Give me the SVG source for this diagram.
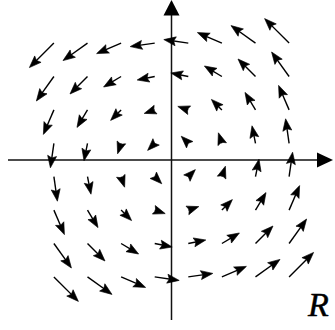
<svg xmlns="http://www.w3.org/2000/svg" width="335" height="330" viewBox="0 0 335 330">
<style>
.ax{stroke:#111;stroke-width:1.5;fill:none}
.ah{fill:#000}
.v path{stroke:#000;stroke-width:1.4;fill:none;marker-end:url(#h)}
.lbl{font-family:"Liberation Serif","Times New Roman",serif;font-style:italic;font-size:34px;fill:#000;stroke:#000;stroke-width:0.5}
</style>
<defs>
<marker id="h" markerUnits="userSpaceOnUse" markerWidth="12" markerHeight="9" viewBox="0 0 12 9" refX="7" refY="4.5" orient="auto" overflow="visible">
<path d="M0,0 L12,4.5 L0,9 L2,4.5 z" fill="#000" stroke="#000" stroke-width="0.6" stroke-linejoin="round"/>
</marker>
</defs>
<rect width="335" height="330" fill="#fff"/>
<g id="axes">
<line class="ax" x1="8" y1="160" x2="318" y2="160"/>
<polygon class="ah" points="317,152.5 333,160 317,167.5"/>
<line class="ax" x1="171.5" y1="14" x2="171.5" y2="320"/>
<polygon class="ah" points="163.5,15.5 171.5,0 179.5,15.5"/>
</g>
<g id="field" class="v">
<path d="M53.9,43.1 l-20.97,20.97"/>
<path d="M87.5,43.1 l-20.43,14.6"/>
<path d="M121.1,43.1 l-19.91,8.53"/>
<path d="M154.7,43.1 l-19.55,2.79"/>
<path d="M188.3,43.1 l-19.55,-2.79"/>
<path d="M221.9,43.1 l-19.91,-8.53"/>
<path d="M255.5,43.1 l-20.43,-14.6"/>
<path d="M289.1,43.1 l-20.97,-20.97"/>

<path d="M53.9,76.5 l-14.6,20.43"/>
<path d="M87.5,76.5 l-13.97,13.97"/>
<path d="M121.1,76.5 l-13.21,7.93"/>
<path d="M154.7,76.5 l-12.6,2.52"/>
<path d="M188.3,76.5 l-12.6,-2.52"/>
<path d="M221.9,76.5 l-13.21,-7.93"/>
<path d="M255.5,76.5 l-13.97,-13.97"/>
<path d="M289.1,76.5 l-14.6,-20.43"/>

<path d="M53.9,109.9 l-8.53,19.91"/>
<path d="M87.5,109.9 l-7.93,13.21"/>
<path d="M121.1,109.9 l-6.96,6.96"/>
<path d="M154.7,109.9 l-5.75,1.92"/>
<path d="M188.3,109.9 l-5.75,-1.92"/>
<path d="M221.9,109.9 l-6.96,-6.96"/>
<path d="M255.5,109.9 l-7.93,-13.21"/>
<path d="M289.1,109.9 l-8.53,-19.91"/>

<path d="M53.9,143.3 l-2.79,19.55"/>
<path d="M87.5,143.3 l-2.52,12.6"/>
<path d="M121.1,143.3 l-1.92,5.75"/>
<path d="M154.7,143.3 l-3.54,3.54"/>
<path d="M188.3,143.3 l-3.54,-3.54"/>
<path d="M221.9,143.3 l-1.92,-5.75"/>
<path d="M255.5,143.3 l-2.52,-12.6"/>
<path d="M289.1,143.3 l-2.79,-19.55"/>

<path d="M53.9,176.7 l2.79,19.55"/>
<path d="M87.5,176.7 l2.52,12.6"/>
<path d="M121.1,176.7 l1.92,5.75"/>
<path d="M154.7,176.7 l3.54,3.54"/>
<path d="M188.3,176.7 l3.54,-3.54"/>
<path d="M221.9,176.7 l1.92,-5.75"/>
<path d="M255.5,176.7 l2.52,-12.6"/>
<path d="M289.1,176.7 l2.79,-19.55"/>

<path d="M53.9,210.1 l8.53,19.91"/>
<path d="M87.5,210.1 l7.93,13.21"/>
<path d="M121.1,210.1 l6.96,6.96"/>
<path d="M154.7,210.1 l5.75,1.92"/>
<path d="M188.3,210.1 l5.75,-1.92"/>
<path d="M221.9,210.1 l6.96,-6.96"/>
<path d="M255.5,210.1 l7.93,-13.21"/>
<path d="M289.1,210.1 l8.53,-19.91"/>

<path d="M53.9,243.5 l14.6,20.43"/>
<path d="M87.5,243.5 l13.97,13.97"/>
<path d="M121.1,243.5 l13.21,7.93"/>
<path d="M154.7,243.5 l12.6,2.52"/>
<path d="M188.3,243.5 l12.6,-2.52"/>
<path d="M221.9,243.5 l13.21,-7.93"/>
<path d="M255.5,243.5 l13.97,-13.97"/>
<path d="M289.1,243.5 l14.6,-20.43"/>

<path d="M53.9,276.9 l20.97,20.97"/>
<path d="M87.5,276.9 l20.43,14.6"/>
<path d="M121.1,276.9 l19.91,8.53"/>
<path d="M154.7,276.9 l19.55,2.79"/>
<path d="M188.3,276.9 l19.55,-2.79"/>
<path d="M221.9,276.9 l19.91,-8.53"/>
<path d="M255.5,276.9 l20.43,-14.6"/>
<path d="M289.1,276.9 l20.97,-20.97"/>
</g>
<g id="label">
<text class="lbl" x="308" y="316">R</text>
</g>
</svg>
